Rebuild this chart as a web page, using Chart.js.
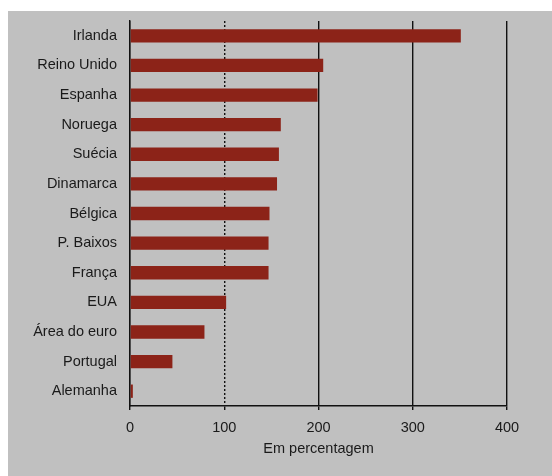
<!DOCTYPE html>
<html>
<head>
<meta charset="utf-8">
<script src="https://cdn.jsdelivr.net/npm/chart.js@4"></script>
<style>
  html, body { margin: 0; padding: 0; background: #ffffff; }
  #panel { position: absolute; left: 8px; top: 11px; width: 544px; height: 465px; background: #c0c0c0; }
</style>
</head>
<body>
<div id="panel"><canvas id="chart" width="544" height="465"></canvas></div>
<script>
// países, ordenados como no gráfico
var categories = ["Irlanda", "Reino Unido", "Espanha", "Noruega", "Suécia", "Dinamarca", "Bélgica", "P. Baixos", "França", "EUA", "Área do euro", "Portugal", "Alemanha"];
var values = [351, 205, 199, 160, 158, 156, 148, 147, 147, 102, 79, 45, 3];
var xTicks = [0, 100, 200, 300, 400];

var font = { family: "'Liberation Sans', Arial, sans-serif", size: 14.5 };

var config = {
  type: "bar",
  data: {
    labels: categories,
    datasets: [
      {
        data: values,
        backgroundColor: "#8c2318",
        borderWidth: 0,
        barPercentage: 0.45,
        categoryPercentage: 1,
      }
    ],
  },
  options: {
    indexAxis: "y",
    responsive: false,
    animation: false,
    layout: { padding: { top: 10, right: 45, left: 0, bottom: 0 } },
    plugins: {
      legend: { display: false },
      tooltip: { enabled: false },
    },
    scales: {
      x: {
        min: 0,
        max: 400,
        afterBuildTicks: function(scale) {
          scale.ticks = xTicks.map(function(v) { return { value: v }; });
        },
        afterFit: function(scale) { scale.height = 70; },
        grid: {
          color: "#111111",
          lineWidth: 1.4,
          drawTicks: true,
          tickLength: 4,
          tickColor: "#111111",
        },
        border: {
          display: true,
          color: "#111111",
          width: 1.4,
          dash: function(ctx) {
            // linha dos 100 é pontilhada
            return ctx.tick && ctx.tick.value === 100 ? [2, 2] : [];
          },
        },
        ticks: { color: "#1a1a1a", font: font, padding: 9 },
        title: {
          display: true,
          text: "Em percentagem",
          color: "#1a1a1a",
          font: font,
          padding: { top: 4, bottom: 18 },
        },
      },
      y: {
        afterFit: function(scale) {
          scale.width = 122;
          scale.paddingTop = 0;
          scale.paddingBottom = 0;
        },
        grid: { display: false, drawTicks: false },
        border: { display: true, color: "#111111", width: 1.4 },
        ticks: { color: "#1a1a1a", font: font, padding: 13 },
      },
    },
  },
};

var ctx = document.getElementById("chart").getContext("2d");
window.chartInstance = new Chart(ctx, config);
</script>
</body>
</html>
